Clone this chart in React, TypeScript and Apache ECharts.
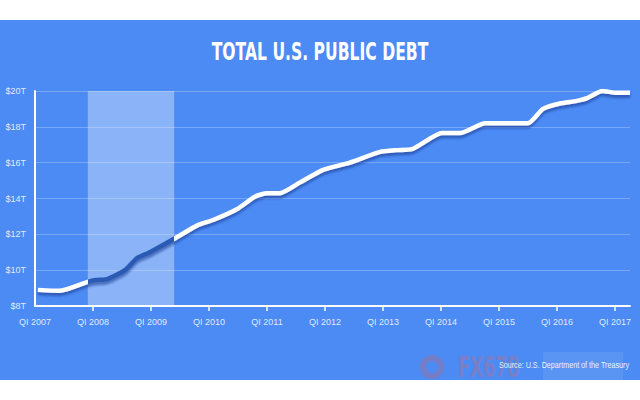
import React, { useEffect, useRef } from "react";
import * as echarts from "echarts";

const years = [2007.05, 2007.43, 2007.91, 2008.05, 2008.24, 2008.55, 2008.76, 2008.98, 2009.4, 2009.8, 2010.07, 2010.48, 2010.79, 2011.0, 2011.22, 2011.57, 2011.97, 2012.43, 2012.95, 2013.24, 2013.5, 2014.02, 2014.33, 2014.76, 2015.5, 2015.76, 2016.05, 2016.34, 2016.52, 2016.78, 2017.03, 2017.26];
const debt = [8.9, 8.85, 9.35, 9.45, 9.5, 10.0, 10.68, 11.0, 11.75, 12.5, 12.8, 13.4, 14.1, 14.3, 14.3, 14.9, 15.6, 16.0, 16.6, 16.7, 16.75, 17.65, 17.65, 18.2, 18.2, 19.0, 19.3, 19.45, 19.6, 20.0, 19.9, 19.9];
const tickYears = [2008, 2009, 2010, 2011, 2012, 2013, 2014, 2015, 2016, 2017];
const labelYears = [2007, 2008, 2009, 2010, 2011, 2012, 2013, 2014, 2015, 2016, 2017];
const recession = [2007.91, 2009.4];
const title = "TOTAL U.S. PUBLIC DEBT";
const source = "Source: U.S. Department of the Treasury";

export default function App() {
  const ref = useRef<HTMLDivElement>(null);
  useEffect(() => {
    if (!ref.current) return;
    const chart = echarts.init(ref.current, null, { renderer: "svg" });
    const font = "'DejaVu Sans', sans-serif";
    const smallFont = "'Liberation Sans', Arial, sans-serif";
    const labelColor = "rgba(255,255,255,0.85)";
    chart.setOption({
      animation: false,
      backgroundColor: "#ffffff",
      graphic: [
        { type: "rect", z: -10, shape: { x: 0, y: 20, width: 640, height: 360 }, style: { fill: "#4c8af4" }, silent: true },
        {
          type: "ring", shape: { cx: 432, cy: 367, r: 12, r0: 6 }, style: { fill: "rgba(210,100,100,0.3)" }, silent: true,
        },
        {
          type: "rect", shape: { x: 543, y: 352, width: 80, height: 28 }, style: { fill: "rgba(120,170,240,0.35)" }, silent: true,
        },
        {
          type: "text", x: 458, y: 367, scaleX: 0.62,
          style: { text: "FX678", fill: "rgba(230,100,90,0.3)", font: `bold 28px ${font}`, textAlign: "left", textVerticalAlign: "middle" },
          silent: true,
        },
        {
          type: "text", x: 320, y: 52, scaleX: 0.65,
          style: { text: title, fill: "#ffffff", font: `bold 24px ${font}`, textAlign: "center", textVerticalAlign: "middle" },
        },
        {
          type: "text", x: 629, y: 365, scaleX: 0.8,
          style: { text: source, fill: "rgba(255,255,255,0.9)", font: `9px ${smallFont}`, textAlign: "right", textVerticalAlign: "middle" },
          z: 10,
        },
      ],
      grid: { left: 35, right: 10, top: 91, bottom: 94 },
      visualMap: {
        show: false,
        type: "piecewise",
        dimension: 0,
        seriesIndex: 0,
        pieces: [
          { lt: recession[0], color: "#ffffff" },
          { gte: recession[0], lte: recession[1], color: "#2a5ab3" },
          { gt: recession[1], color: "#ffffff" },
        ],
      },
      xAxis: {
        type: "value",
        min: 2007,
        max: 2017.26,
        interval: 1,
        splitLine: { show: false },
        axisLine: { show: true, lineStyle: { color: "#ffffff", width: 2 } },
        axisTick: { show: true, customValues: tickYears, length: 5, lineStyle: { color: "#ffffff", width: 1.5 } },
        axisLabel: {
          customValues: labelYears,
          color: labelColor,
          fontFamily: smallFont,
          fontSize: 9,
          margin: 11,
          formatter: (v: number) => `QI ${Math.round(v)}`,
        },
      },
      yAxis: {
        type: "value",
        min: 8,
        max: 20,
        interval: 2,
        axisLine: { show: true, lineStyle: { color: "#ffffff", width: 2 } },
        axisTick: { show: false },
        splitLine: { show: true, lineStyle: { color: "rgba(255,255,255,0.25)", width: 1 } },
        axisLabel: {
          color: labelColor,
          fontFamily: smallFont,
          fontSize: 9,
          margin: 9,
          padding: [0, 0, 6, 0],
          formatter: (v: number) => `$${v}T`,
        },
      },
      series: [
        {
          type: "line",
          data: years.map((y, i) => [y, debt[i]]),
          showSymbol: false,
          smooth: 0.2,
          lineStyle: { width: 4.5, shadowColor: "rgba(20,55,140,0.55)", shadowOffsetY: 3, shadowBlur: 2 },
          z: 5,
          markArea: {
            silent: true,
            itemStyle: { color: "rgba(255,255,255,0.35)" },
            data: [[{ xAxis: recession[0] }, { xAxis: recession[1] }]],
          },
        },
      ],
    });
    return () => chart.dispose();
  }, []);
  return <div ref={ref} style={{ position: "absolute", left: 0, top: 0, width: 640, height: 400 }} />;
}
